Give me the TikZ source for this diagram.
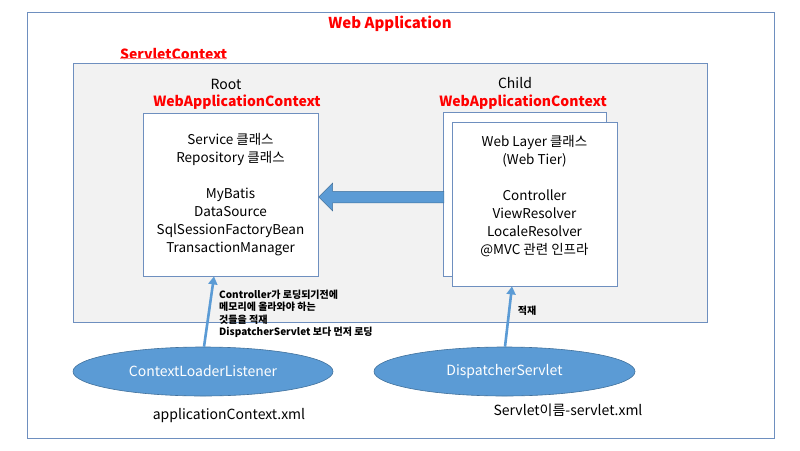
\documentclass[tikz,border=0pt]{standalone}
\usepackage{fontspec}
\setmainfont{Noto Sans CJK KR}
\usetikzlibrary{shapes.geometric,shapes.arrows,arrows.meta}
\definecolor{boxline}{HTML}{6E8FBF}
\definecolor{ctxfill}{HTML}{F2F2F2}
\definecolor{bluefill}{HTML}{5B9BD5}
\definecolor{blueline}{HTML}{41719C}
\definecolor{redtxt}{HTML}{FF0000}
\definecolor{uline}{HTML}{FF8585}
\begin{document}
\begin{tikzpicture}[x=1pt,y=-1pt,
  frame/.style={draw=boxline,line width=0.8pt,rectangle,inner sep=0pt},
  whitebox/.style={frame,fill=white},
  redlbl/.style={text=redtxt,font=\fontsize{14}{16}\selectfont\bfseries,inner sep=0pt},
  plainlbl/.style={font=\fontsize{14}{16}\selectfont,inner sep=0pt},
  content/.style={font=\fontsize{13.5}{18}\selectfont,align=center,inner sep=0pt},
  bubble/.style={ellipse,fill=bluefill,draw=blueline,line width=0.6pt,text=white,
    font=\fontsize{14}{16}\selectfont,inner sep=0pt},
  smallnote/.style={font=\fontsize{10}{12.2}\selectfont\bfseries,align=left,inner sep=0pt},
  link/.style={draw=bluefill,line width=2.6pt,-{Triangle[width=9pt,length=8pt]}}
]
\useasboundingbox (0,0) rectangle (800,450);
% outer web application frame
\node[frame,fill=white,minimum width=747pt,minimum height=426pt] (outer) at (400.5,225) {};
\node[redlbl,font=\fontsize{15}{17}\selectfont\bfseries] (walbl) at (390,24) {Web Application};
% servlet context
\node[frame,fill=ctxfill,minimum width=634pt,minimum height=259pt] (servlet) at (390,192.5) {};
\node[redlbl,anchor=west] (sclbl) at (120,54) {ServletContext};
\draw[uline,line width=1.6pt] ([yshift=1.5pt]sclbl.south west) -- ([yshift=1.5pt]sclbl.south east);
% root context
\node[plainlbl] (rootlbl) at (226,84) {Root};
\node[redlbl] (rootred) at (237,102.5) {WebApplicationContext};
\node[whitebox,minimum width=175pt,minimum height=163pt] (root) at (230.5,194.5) {};
\node[content] (roottxt) at (230.5,195) {Service 클래스\\Repository 클래스\\[18pt]MyBatis\\DataSource\\SqlSessionFactoryBean\\TransactionManager};
% child context
\node[plainlbl] (childlbl) at (515,83) {Child};
\node[redlbl] (childred) at (523,102) {WebApplicationContext};
\node[whitebox,minimum width=163pt,minimum height=164pt] (childback) at (524.5,194) {};
\node[whitebox,minimum width=165pt,minimum height=164pt] (childfront) at (534.5,204) {};
\node[content] (childtxt) at (534.5,196) {Web Layer 클래스\\(Web Tier)\\[18pt]Controller\\ViewResolver\\LocaleResolver\\@MVC 관련 인프라};
% big arrow child -> root
\node[single arrow,shape border rotate=180,fill=bluefill,draw=blueline,line width=0.5pt,
  inner sep=5.5pt,single arrow head extend=8pt,single arrow tip angle=90,
  minimum height=125pt,anchor=tip] (bigarrow) at ([yshift=-2.5pt]root.east) {};
% listeners
\node[bubble,minimum width=260pt,minimum height=49pt] (cll) at (203,371.5) {ContextLoaderListener};
\node[bubble,minimum width=261pt,minimum height=49pt] (ds) at (504.5,371.5) {DispatcherServlet};
\draw[link] ([xshift=1pt]cll.north) -- ([xshift=-16.5pt]root.south);
\draw[link] ([xshift=0.5pt]ds.north) -- ([xshift=-22.5pt]childfront.south);
% notes
\node[smallnote,anchor=north west] (note1) at (219,290) {Controller가 로딩되기전에\\메모리에 올라와야 하는\\것들을 적재\\DispatcherServlet 보다 먼저 로딩};
\node[smallnote] (note2) at (527,311) {적재};
\node[plainlbl] (appxml) at (229,416) {applicationContext.xml};
\node[plainlbl] (srvxml) at (568,410) {Servlet이름-servlet.xml};
\end{tikzpicture}
\end{document}
